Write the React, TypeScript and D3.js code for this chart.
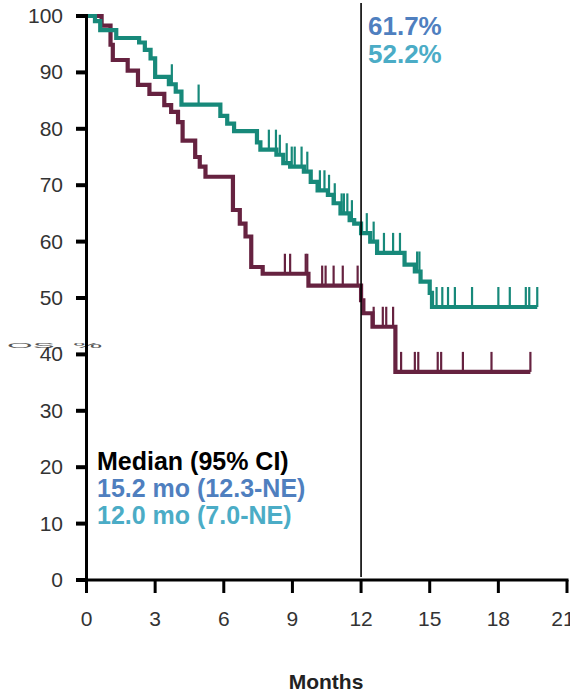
import React from 'react';
import { scaleLinear, line, curveStepAfter } from 'd3';

const width = 570;
const height = 695;

// months / survival (%) at each step
const greenTimes = [0, 0.37, 0.6, 1.3, 2.3, 2.55, 2.8, 3.0, 3.6, 3.9, 4.15, 5.85, 6.15, 6.45, 7.45, 7.6, 8.3, 8.6, 8.9, 9.5, 9.8, 10.1, 10.55, 10.8, 11.1, 11.5, 11.7, 12.0, 12.4, 12.7, 13.9, 14.35, 14.6, 15.0, 15.1];
const greenSurv = [100, 99.1, 97.5, 96.1, 95.3, 94.0, 92.5, 89.2, 87.9, 86.6, 84.3, 82.3, 80.9, 79.6, 77.6, 76.3, 75.4, 73.9, 73.3, 72.4, 70.6, 69.1, 68.3, 66.8, 65.0, 63.8, 63.2, 61.5, 60.0, 58.0, 55.9, 54.7, 52.9, 50.9, 48.4];
const greenEnd = 19.7;
const greenCensor = [3.73, 4.9, 7.97, 8.28, 8.45, 8.75, 8.97, 9.1, 9.4, 9.65, 10.2, 10.4, 10.6, 10.85, 11.15, 11.25, 11.4, 11.6, 12.25, 12.55, 13.0, 13.4, 13.7, 14.45, 14.55, 15.3, 15.55, 15.8, 16.1, 16.85, 18.0, 18.5, 19.2, 19.35, 19.7];

const maroonTimes = [0, 0.66, 1.05, 1.15, 1.8, 2.25, 2.75, 3.4, 3.7, 4.0, 4.2, 4.75, 4.95, 5.2, 6.4, 6.7, 6.95, 7.2, 7.7, 9.7, 12.0, 12.1, 12.5, 13.5];
const maroonSurv = [100, 98.3, 94.9, 92.2, 90.3, 87.8, 86.2, 84.2, 83.0, 81.2, 77.9, 75.0, 73.3, 71.5, 65.6, 63.2, 60.9, 55.5, 54.3, 52.2, 49.6, 47.3, 44.9, 36.9];
const maroonEnd = 19.4;
const maroonCensor = [8.67, 8.9, 9.58, 9.65, 10.3, 10.45, 10.8, 11.2, 11.85, 12.55, 12.95, 13.1, 13.4, 13.75, 14.35, 14.5, 15.35, 15.5, 16.45, 17.7, 19.4];

const xTicks = [0, 3, 6, 9, 12, 15, 18, 21];
const yTicks = [0, 10, 20, 30, 40, 50, 60, 70, 80, 90, 100];

const landmark = 12;
const landmarkLabels = ['61.7%', '52.2%'];
const medianTitle = 'Median (95% CI)';
const medianLabels = ['15.2 mo (12.3-NE)', '12.0 mo (7.0-NE)'];

const green = '#17897a';
const maroon = '#662240';
const blue = '#4f7fbf';
const aqua = '#4bacc6';

const x = scaleLinear().domain([0, 21]).range([86.5, 567]);
const y = scaleLinear().domain([0, 100]).range([580, 16]);

const stepLine = line<[number, number]>()
  .x(d => x(d[0]))
  .y(d => y(d[1]))
  .curve(curveStepAfter);

const survAt = (times: number[], surv: number[], t: number) => {
  let s = surv[0];
  times.forEach((tt, i) => { if (tt <= t) s = surv[i]; });
  return s;
};

const Curve = ({ times, surv, end, censor, color }) => {
  const pts: [number, number][] = times.map((t, i) => [t, surv[i]]);
  pts.push([end, surv[surv.length - 1]]);
  return (
    <g>
      <path d={stepLine(pts)} fill="none" stroke={color} strokeWidth={4.2} />
      {censor.map((c, i) => {
        const s = survAt(times, surv, c);
        return (
          <line key={i} x1={x(c)} x2={x(c)} y1={y(s)} y2={y(s) - 20}
            stroke={color} strokeWidth={2.2} />
        );
      })}
    </g>
  );
};

const tickFont = '"Liberation Sans Narrow", "Liberation Sans", Arial, sans-serif';
const boldFont = '"Liberation Sans", Arial, sans-serif';

export default function App() {
  return (
    <svg width={width} height={height} style={{ position: 'absolute', left: 0, top: 0, background: '#fff' }}>
      {/* squashed y-axis title */}
      <text transform="translate(7,348) scale(1,0.2)" fontFamily={boldFont} fontSize={33} fill="#555">OS, %</text>

      <Curve times={maroonTimes} surv={maroonSurv} end={maroonEnd} censor={maroonCensor} color={maroon} />
      <Curve times={greenTimes} surv={greenSurv} end={greenEnd} censor={greenCensor} color={green} />

      <line x1={x(landmark)} x2={x(landmark)} y1={3} y2={577} stroke="#000" strokeWidth={1.6} />

      {/* axes */}
      <line x1={x(0)} x2={x(0)} y1={y(100) - 2} y2={y(0) + 13} stroke="#000" strokeWidth={3} />
      <line x1={76} x2={x(21) + 1.5} y1={y(0)} y2={y(0)} stroke="#000" strokeWidth={3} />
      {yTicks.map(t => (
        <g key={t}>
          <line x1={76} x2={x(0)} y1={y(t)} y2={y(t)} stroke="#000" strokeWidth={4} />
          <text x={63} y={y(t) + 7} textAnchor="end" fontFamily={tickFont} fontSize={21} fill="#333">{t}</text>
        </g>
      ))}
      {xTicks.map(t => (
        <g key={t}>
          <line x1={x(t)} x2={x(t)} y1={y(0)} y2={y(0) + 13} stroke="#000" strokeWidth={3} />
          <text x={t === 21 ? x(t) - 4 : x(t)} y={626} textAnchor="middle" fontFamily={tickFont} fontSize={21} fill="#333">{t}</text>
        </g>
      ))}
      <text x={326} y={689} textAnchor="middle" fontFamily={tickFont} fontSize={21} fontWeight="bold" fill="#222">Months</text>

      {/* landmark rates */}
      <text x={368} y={35} fontFamily={boldFont} fontWeight="bold" fontSize={26} fill={blue}>{landmarkLabels[0]}</text>
      <text x={368} y={63} fontFamily={boldFont} fontWeight="bold" fontSize={26} fill={aqua}>{landmarkLabels[1]}</text>

      {/* medians */}
      <text x={97} y={470} fontFamily={boldFont} fontWeight="bold" fontSize={25} fill="#000">{medianTitle}</text>
      <text x={97} y={497} fontFamily={boldFont} fontWeight="bold" fontSize={25} fill={blue}>{medianLabels[0]}</text>
      <text x={97} y={524} fontFamily={boldFont} fontWeight="bold" fontSize={25} fill={aqua}>{medianLabels[1]}</text>
    </svg>
  );
}
